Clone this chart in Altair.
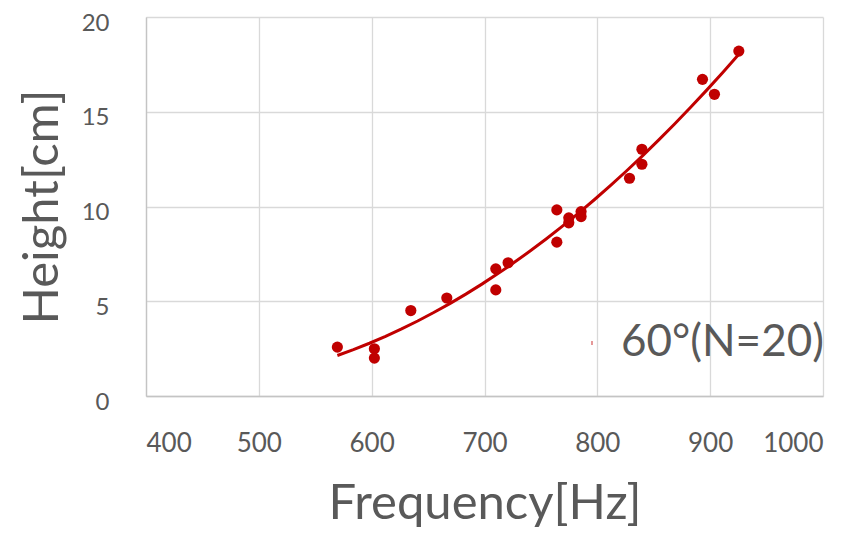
import altair as alt
import pandas as pd

series_name = "60°(N=20)"
freq = [569.6, 602.4, 602.4, 634.7, 666.6, 710.0, 710.0, 720.9, 764.1, 764.1,
        774.7, 774.7, 785.6, 785.6, 828.5, 839.5, 839.5, 893.2, 903.8, 925.4]
height = [2.58, 2.49, 2.00, 4.51, 5.17, 6.71, 5.60, 7.03, 9.82, 8.12,
          9.40, 9.14, 9.73, 9.47, 11.49, 13.02, 12.23, 16.71, 15.92, 18.20]
x_ticks = [400, 500, 600, 700, 800, 900, 1000]
y_ticks = [0, 5, 10, 15, 20]

df = pd.DataFrame({"freq": freq, "height": height, "series": series_name})

FONT = "Lato"
GRAY = "#595959"
RED = "#c00000"
W, H = 677, 379

x_enc = alt.X(
    "freq:Q",
    scale=alt.Scale(domain=[400, 1000], nice=False, zero=False),
    axis=alt.Axis(values=x_ticks, format="d", title="Frequency[Hz]", labelPadding=34,
                  labelFontSize=26,
                  titleX=W / 2, titleY=122, titleBaseline="alphabetic",
                  titleFontSize=49),
)
y_enc = alt.Y(
    "height:Q",
    scale=alt.Scale(domain=[0, 20], nice=False),
    axis=alt.Axis(values=y_ticks, format="d", title="Height[cm]", labelPadding=37,
                  labelOffset=6, labelFontSize=24,
                  titleX=-89, titleY=H / 2, titleBaseline="alphabetic",
                  titleAngle=270, titleFontSize=49),
)

points = alt.Chart(df).mark_point(filled=True, size=125, opacity=1).encode(
    x=x_enc,
    y=y_enc,
    color=alt.Color(
        "series:N",
        scale=alt.Scale(range=[RED]),
        legend=alt.Legend(
            title=None, orient="none", legendX=424, legendY=304, padding=0,
            symbolType="M -0.2 -1 L 0.2 -1 L 0.2 1 L -0.2 1 Z",
            symbolSize=16, symbolStrokeWidth=0, labelOffset=7,
            labelFontSize=44, labelColor=GRAY, labelFont=FONT,
            labelLimit=400,
        ),
    ),
)

trend = alt.Chart(df).transform_regression(
    "freq", "height", method="poly", order=2
).mark_line(color=RED, strokeWidth=3).encode(
    x=alt.X("freq:Q"),
    y=alt.Y("height:Q"),
)

chart = alt.layer(trend, points).properties(
    width=W, height=H,
    autosize=alt.AutoSizeParams(type="none"),
    padding={"left": 138, "top": 9, "right": 30, "bottom": 132},
).configure_view(stroke=None).configure_axis(
    labelFont=FONT, labelColor=GRAY,
    titleFont=FONT, titleFontWeight="normal", titleColor=GRAY,
    ticks=False, domainColor="#c4c4c4", domainWidth=1.3,
    gridColor="#d9d9d9", gridWidth=1.3,
)

chart.save("out.html", embed_options={"renderer": "svg", "actions": False})
